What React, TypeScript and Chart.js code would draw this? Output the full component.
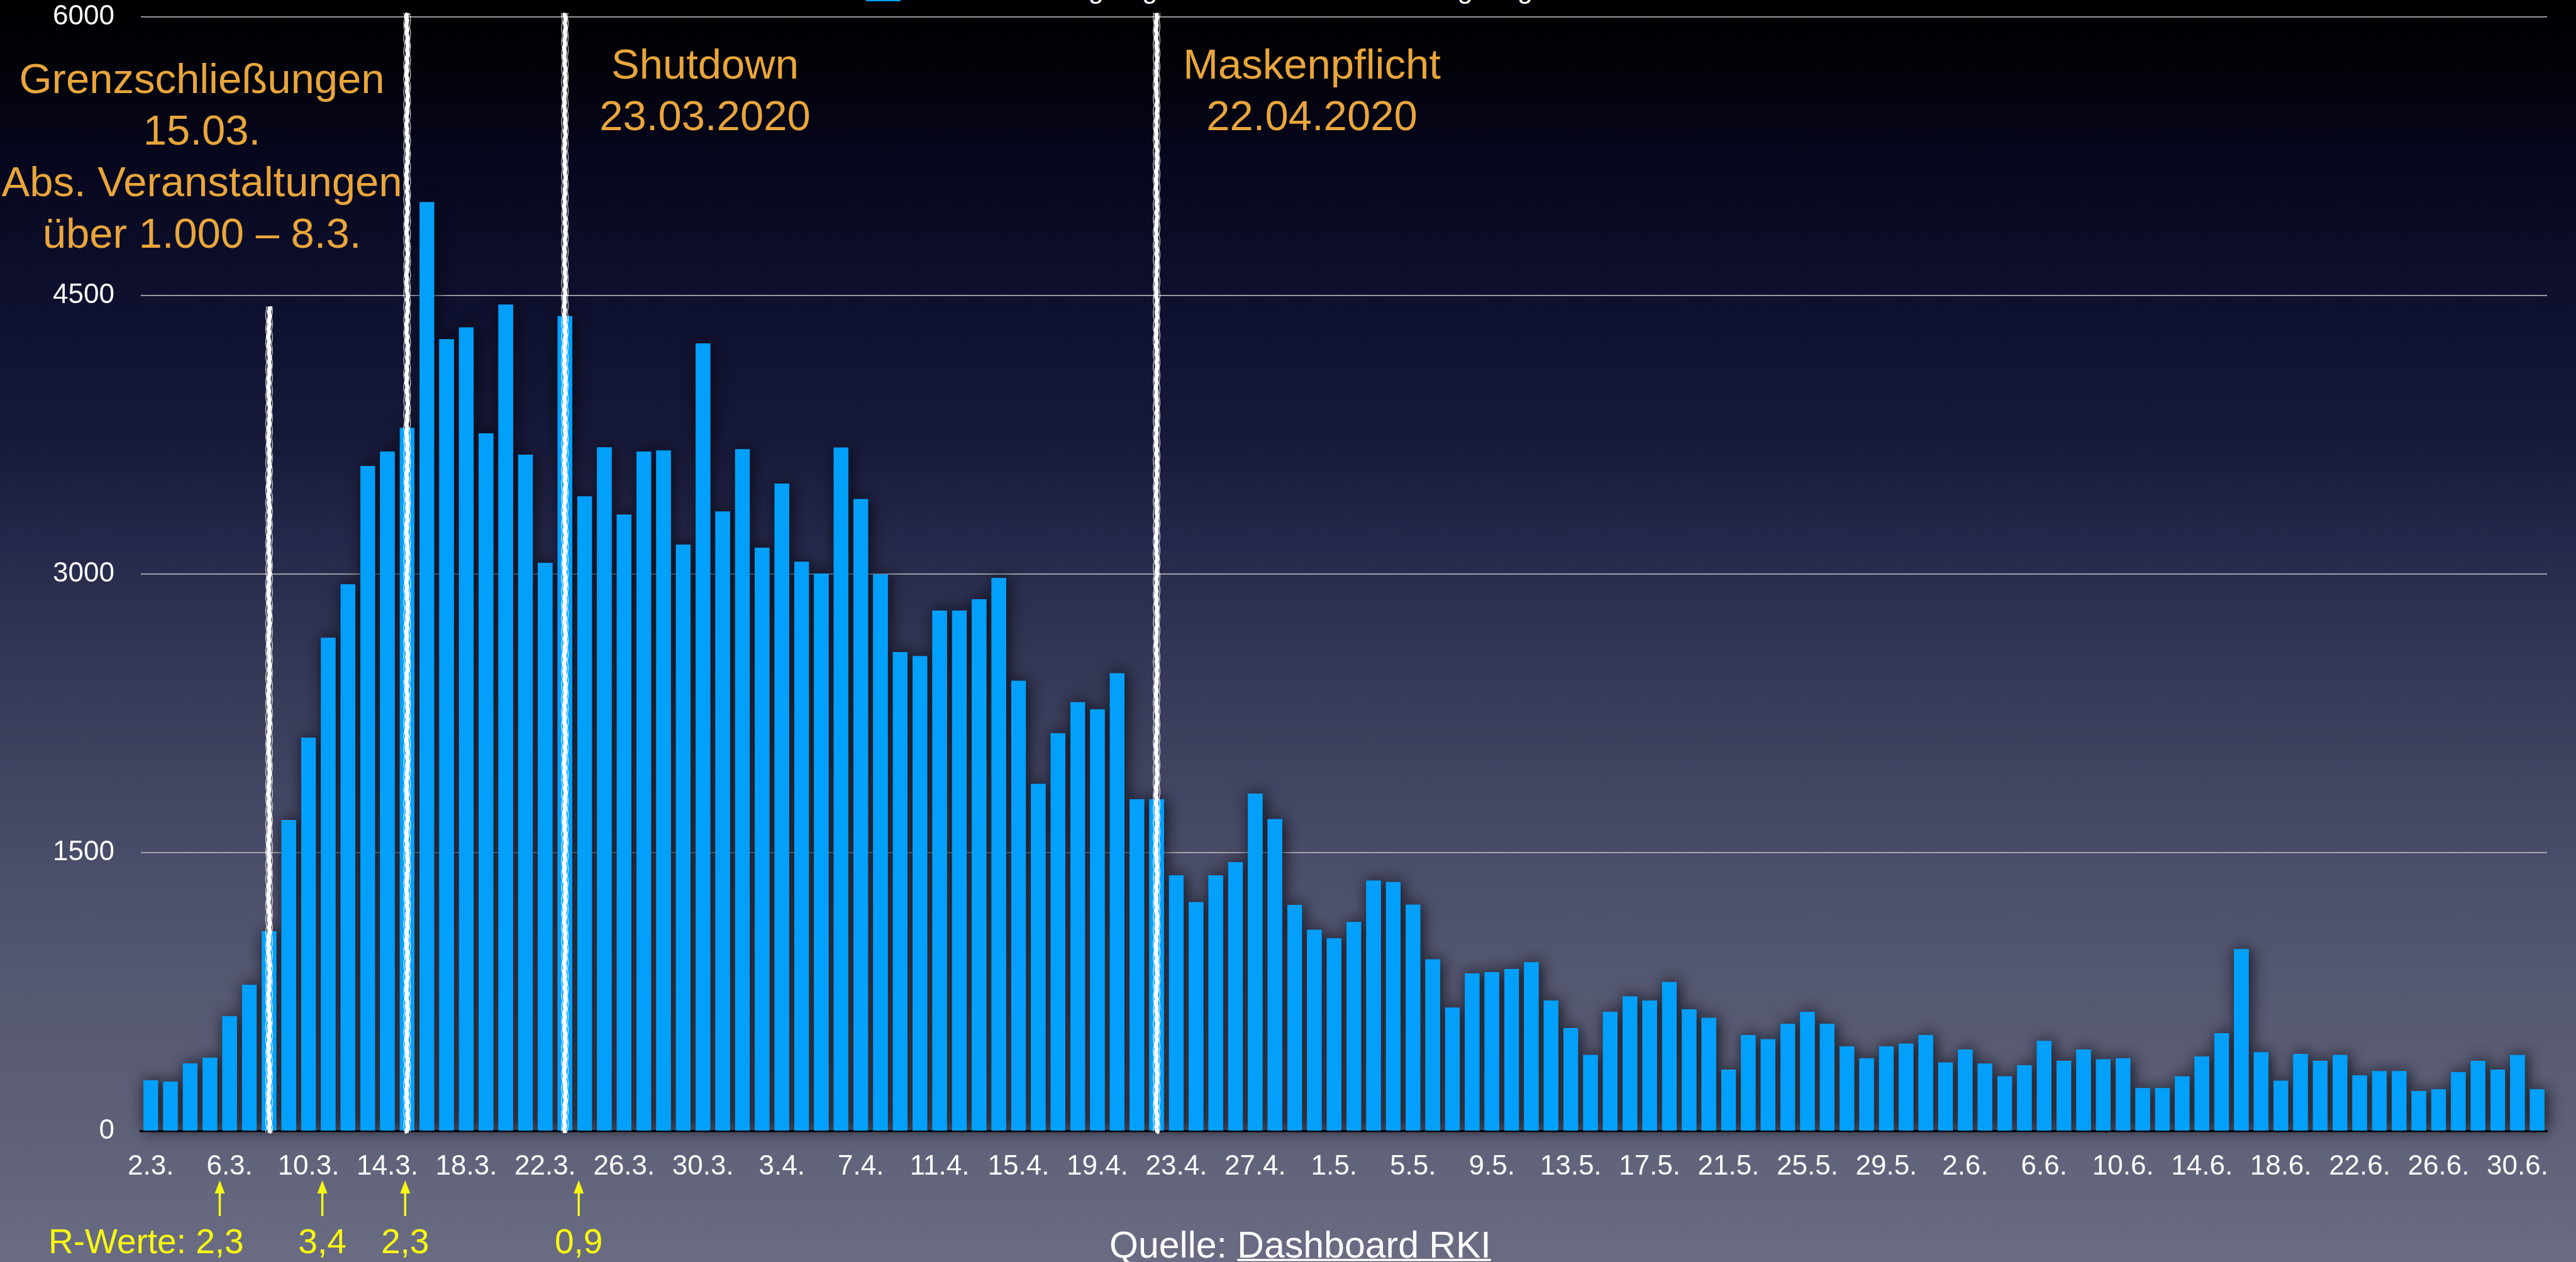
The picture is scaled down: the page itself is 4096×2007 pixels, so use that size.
import React, { useEffect, useRef } from "react";
import { Chart, registerables } from "chart.js";

Chart.register(...registerables);

// ---------- data ----------
const marchDays = ["2.3.", "3.3.", "4.3.", "5.3.", "6.3.", "7.3.", "8.3.", "9.3.", "10.3.", "11.3.", "12.3.", "13.3.", "14.3.", "15.3.", "16.3.", "17.3.", "18.3.", "19.3.", "20.3.", "21.3.", "22.3.", "23.3.", "24.3.", "25.3.", "26.3.", "27.3.", "28.3.", "29.3.", "30.3.", "31.3."];
const aprilDays = ["1.4.", "2.4.", "3.4.", "4.4.", "5.4.", "6.4.", "7.4.", "8.4.", "9.4.", "10.4.", "11.4.", "12.4.", "13.4.", "14.4.", "15.4.", "16.4.", "17.4.", "18.4.", "19.4.", "20.4.", "21.4.", "22.4.", "23.4.", "24.4.", "25.4.", "26.4.", "27.4.", "28.4.", "29.4.", "30.4."];
const mayDays = ["1.5.", "2.5.", "3.5.", "4.5.", "5.5.", "6.5.", "7.5.", "8.5.", "9.5.", "10.5.", "11.5.", "12.5.", "13.5.", "14.5.", "15.5.", "16.5.", "17.5.", "18.5.", "19.5.", "20.5.", "21.5.", "22.5.", "23.5.", "24.5.", "25.5.", "26.5.", "27.5.", "28.5.", "29.5.", "30.5.", "31.5."];
const juneDays = ["1.6.", "2.6.", "3.6.", "4.6.", "5.6.", "6.6.", "7.6.", "8.6.", "9.6.", "10.6.", "11.6.", "12.6.", "13.6.", "14.6.", "15.6.", "16.6.", "17.6.", "18.6.", "19.6.", "20.6.", "21.6.", "22.6.", "23.6.", "24.6.", "25.6.", "26.6.", "27.6.", "28.6.", "29.6.", "30.6."];
const julyDays = ["1.7."];
const categories = [...marchDays, ...aprilDays, ...mayDays, ...juneDays, ...julyDays];

const casesMarch = [274, 267, 365, 396, 619, 788, 1076, 1675, 2118, 2656, 2944, 3580, 3658, 3786, 5001, 4263, 4327, 3756, 4449, 3641, 3059, 4388, 3417, 3681, 3319, 3658, 3664, 3157, 4240, 3336];
const casesApril = [3671, 3141, 3486, 3065, 3002, 3680, 3403, 2997, 2579, 2557, 2803, 2803, 2864, 2978, 2424, 1869, 2142, 2309, 2271, 2465, 1787, 1787, 1378, 1233, 1378, 1449, 1818, 1680, 1218, 1084];
const casesMay = [1038, 1126, 1349, 1341, 1219, 925, 665, 850, 856, 873, 910, 703, 555, 410, 642, 725, 703, 803, 656, 610, 332, 518, 495, 578, 642, 578, 457, 393, 457, 471, 518];
const casesJune = [370, 440, 364, 295, 355, 486, 379, 440, 387, 393, 232, 232, 295, 402, 527, 980, 425, 272, 416, 379, 410, 300, 323, 323, 217, 225, 318, 379, 332, 410];
const casesJuly = [225];
const cases = [...casesMarch, ...casesApril, ...casesMay, ...casesJune, ...casesJuly];

const yTicks = [0, 1500, 3000, 4500, 6000];
const tickEvery = 4;

const legendLabel = "Neuerkrankungen gemeldet nach Erkrankungsbeginn";

// event markers (vertical chalk lines): category index and top value
const eventIndex = [6, 13, 21, 51];
const eventTop = [4440, 6020, 6020, 6020];

// annotation texts
const grenzLines = ["Grenzschließungen", "15.03.", "Abs. Veranstaltungen", "über 1.000 – 8.3."];
const shutdownLines = ["Shutdown", "23.03.2020"];
const maskLines = ["Maskenpflicht", "22.04.2020"];

// R-value arrows (category position) and labels
const rPositions = [3.5, 8.7, 12.9, 21.7];
const rValues = ["2,3", "3,4", "2,3", "0,9"];
const rPrefix = "R-Werte: ";
const sourcePrefix = "Quelle: ";
const sourceLink = "Dashboard RKI";

// ---------- styling ----------
const W = 4096;
const H = 2007;
const FONT = "'Liberation Sans', Arial, Helvetica, sans-serif";
const BAR = "#02A0FB";
const ORANGE = "#E9A63B";
const YELLOW = "#F8F812";

function chalkLine(ctx: CanvasRenderingContext2D, x: number, y1: number, y2: number, seed: number) {
  ctx.save();
  ctx.strokeStyle = "#ffffff";
  ctx.lineCap = "butt";
  ctx.lineWidth = 6.5;
  ctx.beginPath();
  let k = 0;
  for (let y = y1; y <= y2; y += 4, k++) {
    const dx = Math.sin(k * 1.9 + seed) * 0.7 + Math.sin(k * 0.31 + seed * 2) * 0.6;
    if (k === 0) ctx.moveTo(x + dx, y);
    else ctx.lineTo(x + dx, y);
  }
  ctx.lineTo(x, y2);
  ctx.stroke();
  // rough edges
  ctx.lineWidth = 1.4;
  ctx.strokeStyle = "rgba(255,255,255,0.75)";
  for (const side of [-1, 1]) {
    ctx.beginPath();
    k = 0;
    for (let y = y1; y <= y2; y += 3, k++) {
      const dx = side * (3.8 + Math.abs(Math.sin(k * 2.7 + seed * 3 + side)) * 1.5);
      if (k === 0) ctx.moveTo(x + dx, y);
      else ctx.lineTo(x + dx, y);
    }
    ctx.stroke();
  }
  ctx.restore();
}

const overlayPlugin = {
  id: "overlay",
  beforeDatasetsDraw(chart: any) {
    const ctx: CanvasRenderingContext2D = chart.ctx;
    const meta = chart.getDatasetMeta(0);
    ctx.save();
    ctx.shadowColor = "rgba(8,8,14,0.9)";
    ctx.shadowBlur = 24;
    ctx.shadowOffsetX = 3;
    ctx.shadowOffsetY = 0;
    meta.data.forEach((el: any) => el.draw(ctx));
    ctx.restore();
  },
  afterDatasetsDraw(chart: any) {
    const ctx: CanvasRenderingContext2D = chart.ctx;
    const xs = chart.scales.x;
    const ys = chart.scales.y;
    eventIndex.forEach((idx, i) => {
      const x = xs.getPixelForValue(idx);
      const yTop = ys.getPixelForValue(eventTop[i]);
      const yBot = ys.getPixelForValue(0) + 3;
      chalkLine(ctx, x, yTop, yBot, i * 1.3 + 0.5);
    });
  },
  afterDraw(chart: any) {
    const ctx: CanvasRenderingContext2D = chart.ctx;
    const xs = chart.scales.x;
    ctx.save();
    // orange annotations
    ctx.fillStyle = ORANGE;
    ctx.textAlign = "center";
    ctx.textBaseline = "alphabetic";
    ctx.font = `67px ${FONT}`;
    const grenzBase = [148, 230, 312, 394];
    grenzLines.forEach((t, i) => ctx.fillText(t, 321, grenzBase[i]));
    const base2 = [125, 207];
    shutdownLines.forEach((t, i) => ctx.fillText(t, 1121, base2[i]));
    maskLines.forEach((t, i) => ctx.fillText(t, 2086, base2[i]));

    // yellow arrows
    ctx.fillStyle = YELLOW;
    ctx.strokeStyle = YELLOW;
    ctx.lineWidth = 3.5;
    const xArrows = rPositions.map((p) => xs.getPixelForValue(p));
    xArrows.forEach((x) => {
      ctx.beginPath();
      ctx.moveTo(x, 1934);
      ctx.lineTo(x, 1894);
      ctx.stroke();
      ctx.beginPath();
      ctx.moveTo(x, 1877);
      ctx.lineTo(x - 8, 1898);
      ctx.lineTo(x + 8, 1898);
      ctx.closePath();
      ctx.fill();
    });

    // R values
    ctx.font = `55px ${FONT}`;
    ctx.textAlign = "left";
    const prefixW = ctx.measureText(rPrefix).width;
    const firstW = ctx.measureText(rValues[0]).width;
    ctx.fillText(rPrefix + rValues[0], xArrows[0] - prefixW - firstW / 2, 1993);
    ctx.textAlign = "center";
    for (let i = 1; i < rValues.length; i++) ctx.fillText(rValues[i], xArrows[i], 1993);

    // source
    ctx.fillStyle = "#ffffff";
    ctx.font = `59px ${FONT}`;
    ctx.textAlign = "left";
    const sx = 1764;
    ctx.fillText(sourcePrefix + sourceLink, sx, 2000);
    const pw = ctx.measureText(sourcePrefix).width;
    const lw = ctx.measureText(sourceLink).width;
    ctx.fillRect(sx + pw, 2002, lw, 3.5);
    ctx.restore();
  },
};

export default function App() {
  const ref = useRef<HTMLCanvasElement | null>(null);

  useEffect(() => {
    document.body.style.margin = "0";
    const canvas = ref.current;
    if (!canvas) return;
    const chart = new Chart(canvas, {
      type: "bar",
      data: {
        labels: categories,
        datasets: [
          {
            label: legendLabel,
            data: cases,
            backgroundColor: BAR,
            borderWidth: 0,
            barPercentage: 0.74,
            categoryPercentage: 1,
          },
        ],
      },
      options: {
        responsive: false,
        animation: false,
        events: [],
        layout: { padding: { top: 25, right: 46, bottom: 0, left: 0 } },
        plugins: {
          legend: { display: false },
          tooltip: { enabled: false },
          title: { display: false },
        },
        scales: {
          x: {
            grid: { display: false, drawTicks: false },
            border: { display: true, color: "#000000", width: 3.5 },
            ticks: {
              autoSkip: false,
              maxRotation: 0,
              minRotation: 0,
              color: "#ffffff",
              font: { family: FONT, size: 44 },
              padding: 30,
              callback: (_v: any, i: number) => (i % tickEvery === 0 ? categories[i] : ""),
            },
            afterFit: (s: any) => {
              s.height = H - 1799;
            },
          },
          y: {
            min: yTicks[0],
            max: yTicks[yTicks.length - 1],
            afterBuildTicks: (s: any) => {
              s.ticks = yTicks.map((v) => ({ value: v }));
            },
            grid: {
              drawTicks: true,
              tickLength: 42,
              tickColor: "rgba(0,0,0,0)",
              color: (c: any) => (c.tick && c.tick.value === 0 ? "rgba(0,0,0,0)" : "rgba(200,200,205,0.85)"),
              lineWidth: 1.8,
            },
            border: { display: false },
            ticks: {
              color: "#ffffff",
              font: { family: FONT, size: 44 },
              padding: 0,
              callback: (v: any) => String(v),
            },
            afterFit: (s: any) => {
              s.width = 224;
            },
          },
        },
      },
      plugins: [overlayPlugin],
    });
    return () => chart.destroy();
  }, []);

  return (
    <div
      style={{
        position: "fixed",
        left: 0,
        top: 0,
        width: W,
        height: H,
        overflow: "hidden",
        background:
          "linear-gradient(to bottom, #000002 0%, #020208 5%, #06061c 12%, #0f1130 25%, #161838 34%, #25284a 43%, #333654 52%, #424562 62%, #4f526d 72%, #585b73 82%, #5d6077 89%, #6a6c84 100%)",
      }}
    >
      <div
        style={{
          position: "absolute",
          left: 1377,
          top: -40,
          display: "flex",
          alignItems: "flex-start",
          fontFamily: FONT,
          fontSize: 44,
          lineHeight: "44px",
          color: "#ffffff",
          whiteSpace: "nowrap",
        }}
      >
        <span style={{ display: "inline-block", width: 55, height: 42, background: BAR, marginRight: 22 }} />
        <span>{legendLabel}</span>
      </div>
      <canvas ref={ref} width={W} height={H} style={{ position: "absolute", left: 0, top: 0, width: W, height: H }} />
    </div>
  );
}
